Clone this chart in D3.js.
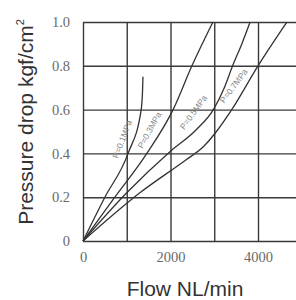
<!DOCTYPE html>
<html>
<head>
<meta charset="utf-8">
<script src="https://cdn.jsdelivr.net/npm/d3@7"></script>
<style>
  html, body { margin: 0; padding: 0; background: #fff; }
</style>
</head>
<body>
<div id="chart"></div>
<script>
// Data: flow (NL/min) vs pressure drop (kgf/cm2)
const seriesNames = ["P=0.1MPa", "P=0.3MPa", "P=0.5MPa", "P=0.7MPa"];
const flowA = [0, 500, 1030, 1330, 1360, 1370];
const dropA = [0, 0.2, 0.4, 0.6, 0.68, 0.75];
const flowB = [0, 690, 1460, 2060, 2490, 2970];
const dropB = [0, 0.19, 0.4, 0.6, 0.8, 1.0];
const flowC = [0, 1000, 2000, 2600, 2980, 3230, 3420, 3630, 3820];
const dropC = [0, 0.22, 0.41, 0.51, 0.6, 0.7, 0.8, 0.9, 1.0];
const flowD = [0, 1300, 2350, 2750, 3050, 3400, 4000, 4660];
const dropD = [0, 0.22, 0.37, 0.43, 0.5, 0.6, 0.8, 1.0];
const xTicks = [0, 1000, 2000, 3000, 4000];
const yTicks = [0, 0.2, 0.4, 0.6, 0.8, 1.0];

const W = 296, H = 300;
const plotLeft = 83, plotTop = 22, plotBottom = 241;

const svg = d3.select("#chart").append("svg")
    .attr("width", W)
    .attr("height", H);

const x = d3.scaleLinear().domain([0, 5000]).range([plotLeft, plotLeft + 5 * 43.75]);
const y = d3.scaleLinear().domain([0, 1]).range([plotBottom, plotTop]);

// grid + tick labels
const gx = svg.append("g")
    .attr("transform", `translate(0,${plotBottom})`)
    .call(d3.axisBottom(x)
        .tickValues(xTicks)
        .tickSize(-(plotBottom - plotTop))
        .tickPadding(11)
        .tickFormat(d => d % 2000 === 0 ? d : ""));

const gy = svg.append("g")
    .attr("transform", `translate(${plotLeft},0)`)
    .call(d3.axisLeft(y)
        .tickValues(yTicks)
        .tickSize(-(W - plotLeft + 10))
        .tickPadding(13)
        .tickFormat(d => d === 0 ? "0" : d.toFixed(1)));

[gx, gy].forEach(g => {
    g.select(".domain").remove();
    g.selectAll(".tick line").attr("stroke", "#3a3a3a").attr("stroke-width", 1.4);
    g.selectAll(".tick text")
        .attr("fill", "#6a6a6a")
        .attr("font-family", "'Liberation Serif', 'DejaVu Serif', serif")
        .attr("font-size", "14.5px");
});

// curves
const series = [
    d3.zip(flowA, dropA),
    d3.zip(flowB, dropB),
    d3.zip(flowC, dropC),
    d3.zip(flowD, dropD)
];

const line = d3.line()
    .x(d => x(d[0]))
    .y(d => y(d[1]))
    .curve(d3.curveMonotoneX);

svg.selectAll(".curve")
    .data(series)
    .enter().append("path")
    .attr("class", "curve")
    .attr("d", line)
    .attr("fill", "none")
    .attr("stroke", "#333")
    .attr("stroke-width", 1.3);

// curve labels, rotated along the lines
const labelPos = [
    {f: 960, v: 0.46, a: -69},
    {f: 1580, v: 0.5, a: -61},
    {f: 2580, v: 0.58, a: -54},
    {f: 3500, v: 0.7, a: -53}
];

svg.selectAll(".lbl")
    .data(labelPos)
    .enter().append("text")
    .attr("class", "lbl")
    .attr("transform", d => `translate(${x(d.f)},${y(d.v)}) rotate(${d.a})`)
    .attr("text-anchor", "middle")
    .attr("font-family", "'Liberation Sans', sans-serif")
    .attr("font-size", "8.5px")
    .attr("fill", "#888")
    .text((d, i) => seriesNames[i]);

// axis titles
svg.append("text")
    .attr("x", 185)
    .attr("y", 296)
    .attr("text-anchor", "middle")
    .attr("font-family", "'Liberation Sans', Arial, sans-serif")
    .attr("font-size", "21px")
    .attr("fill", "#333")
    .text("Flow NL/min");

const yt = svg.append("text")
    .attr("transform", "translate(33,122) rotate(-90)")
    .attr("text-anchor", "middle")
    .attr("font-family", "'Liberation Sans', Arial, sans-serif")
    .attr("font-size", "21px")
    .attr("fill", "#333");
yt.append("tspan").text("Pressure drop kgf/cm");
yt.append("tspan").attr("font-size", "11px").attr("dy", "-9").text("2");
</script>
</body>
</html>
